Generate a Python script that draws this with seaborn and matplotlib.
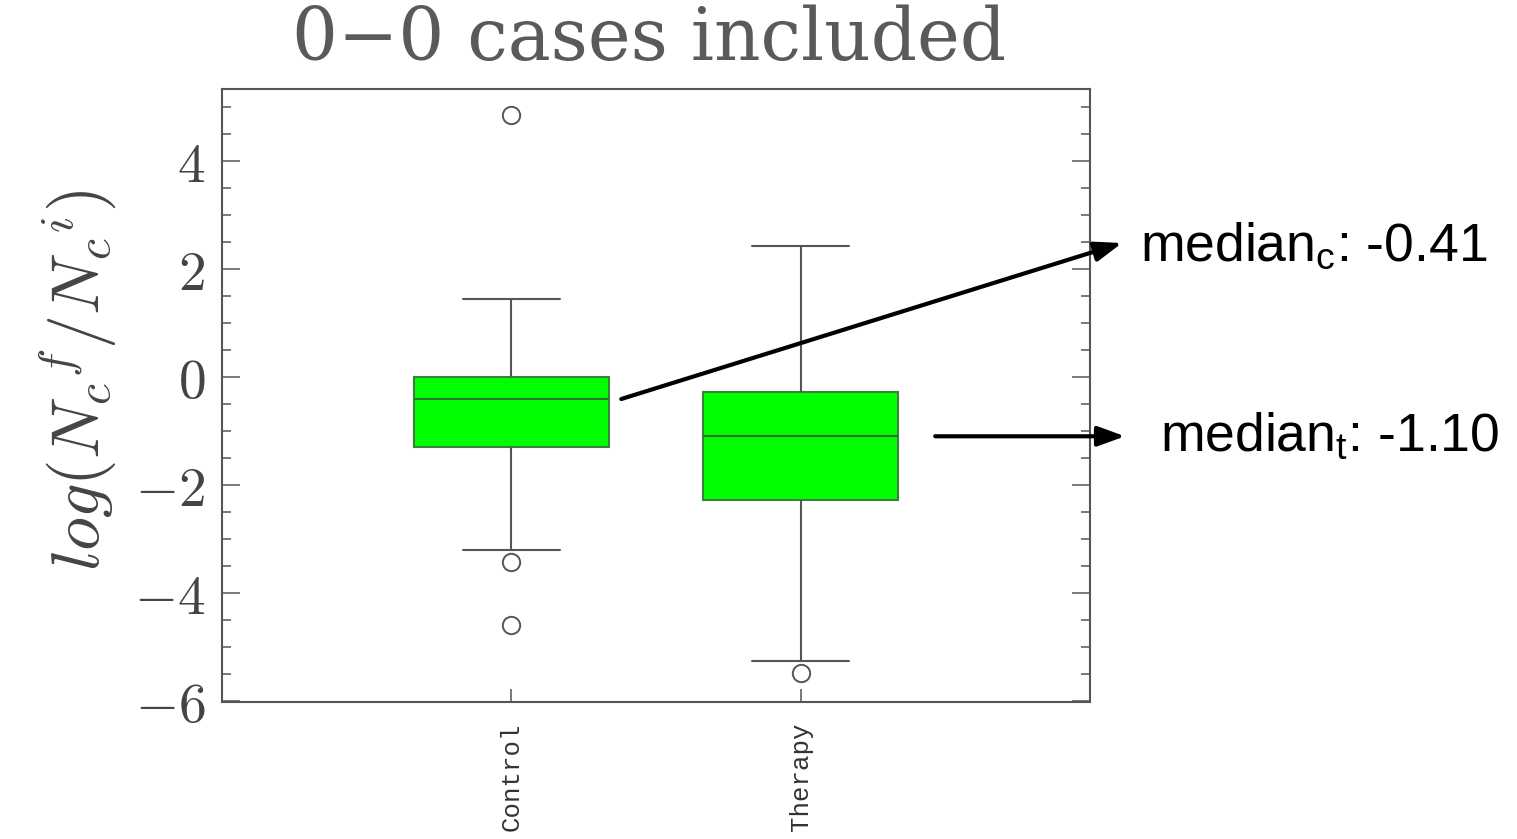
import numpy as np
import pandas as pd
import seaborn as sns
import matplotlib
matplotlib.use("Agg")
import matplotlib.pyplot as plt
from matplotlib.ticker import MultipleLocator

# ---- data ----
groups = ["Control", "Therapy"]
control_values = [-4.59, -3.43, -3.20, -1.30, -1.00, -0.70, -0.41, -0.20, -0.10, 0.00, 0.80, 1.45, 4.84]
therapy_values = [-5.49, -5.27, -3.50, -2.28, -1.80, -1.40, -1.10, -0.90, -0.60, -0.28, 0.50, 1.50, 2.42]
y_ticks = [-6, -4, -2, 0, 2, 4]
title_text = "0\u22120 cases included"
ylabel_text = r"$log(N_c{}^f/N_c{}^i)$"

df = pd.DataFrame({
    "group": [groups[0]] * len(control_values) + [groups[1]] * len(therapy_values),
    "value": control_values + therapy_values,
})
median_c = float(np.median(control_values))
median_t = float(np.median(therapy_values))

sns.set_theme(style="white")
plt.rcParams["mathtext.fontset"] = "cm"
plt.rcParams["mathtext.rm"] = "Liberation Sans"

W, H = 1517, 839
fig = plt.figure(figsize=(W / 100, H / 100), dpi=100)
fig.patch.set_facecolor("white")
ax = fig.add_axes([222 / W, 1 - 702 / H, (1090 - 222) / W, (702 - 89) / H])

gray = "#555555"
sns.boxplot(
    data=df, x="group", y="value", order=groups, ax=ax,
    width=0.675, color="#00ff00", saturation=1, linecolor=gray, linewidth=1.5,
    boxprops=dict(facecolor="#00ff00", edgecolor="#3d7f3d", linewidth=1.5),
    medianprops=dict(color="#2f6f2f", linewidth=1.5),
    whiskerprops=dict(color=gray, linewidth=1.5),
    capprops=dict(color=gray, linewidth=1.5),
    flierprops=dict(marker="o", markerfacecolor="none", markeredgecolor=gray,
                    markersize=12.5, markeredgewidth=1.4),
)

ax.set_xlim(-1, 2)
ax.set_ylim(-6.02, 5.33)
ax.set_xlabel("")
ax.set_ylabel("")
ax.set_facecolor("white")

ax.yaxis.set_major_locator(MultipleLocator(2))
ax.yaxis.set_minor_locator(MultipleLocator(0.5))
ax.set_yticks(y_ticks)
ax.set_yticklabels([f"${v}$" for v in y_ticks])
ax.tick_params(axis="y", which="major", direction="in", left=True, right=True,
               length=13, width=1.1, color=gray, labelsize=40, labelcolor="#444444", pad=12)
ax.tick_params(axis="y", which="minor", direction="in", left=True, right=True,
               length=6.5, width=1.1, color=gray)
ax.tick_params(axis="x", which="major", direction="in", bottom=True, top=False,
               length=9.5, width=1.1, color=gray, labelcolor="#333333", pad=15)
for lab in ax.get_xticklabels():
    lab.set_rotation(90)
    lab.set_fontfamily("Liberation Mono")
    lab.set_fontsize(18.5)
    lab.set_va("top")
    lab.set_ha("center")

for sp in ax.spines.values():
    sp.set_visible(True)
    sp.set_color(gray)
    sp.set_linewidth(1.5)

# title and y label
fig.text(649 / W, 1 - 40 / H, title_text, ha="center", va="center",
         family="DejaVu Serif", fontsize=52, color="#5a5a5a")
fig.text(78 / W, 1 - 380 / H, ylabel_text, rotation=90, ha="center", va="center",
         fontsize=49, color="#444444")

# annotations
arrow_kw = dict(arrowstyle="-|>,head_length=0.55,head_width=0.2", color="black",
                lw=3, mutation_scale=30, shrinkA=0, shrinkB=0)
ax.annotate("", xy=(1122 / W, 1 - 243 / H), xycoords="figure fraction",
            xytext=(0.38, median_c), textcoords="data",
            arrowprops=arrow_kw, annotation_clip=False)
ax.annotate("", xy=(1125 / W, median_t), xycoords=("figure fraction", "data"),
            xytext=(1.465, median_t), textcoords="data",
            arrowprops=arrow_kw, annotation_clip=False)

fig.text(1140 / W, 1 - 261 / H, r"median$_{\rm c}$: " + f"{median_c:.2f}",
         ha="left", va="baseline", family="Liberation Sans", math_fontfamily="custom",
         fontsize=38.5, color="black")
fig.text(1160 / W, 1 - 451 / H, r"median$_{\rm t}$: " + f"{median_t:.2f}",
         ha="left", va="baseline", family="Liberation Sans", math_fontfamily="custom",
         fontsize=38.5, color="black")

fig.savefig("out.png", dpi=100, facecolor="white")
